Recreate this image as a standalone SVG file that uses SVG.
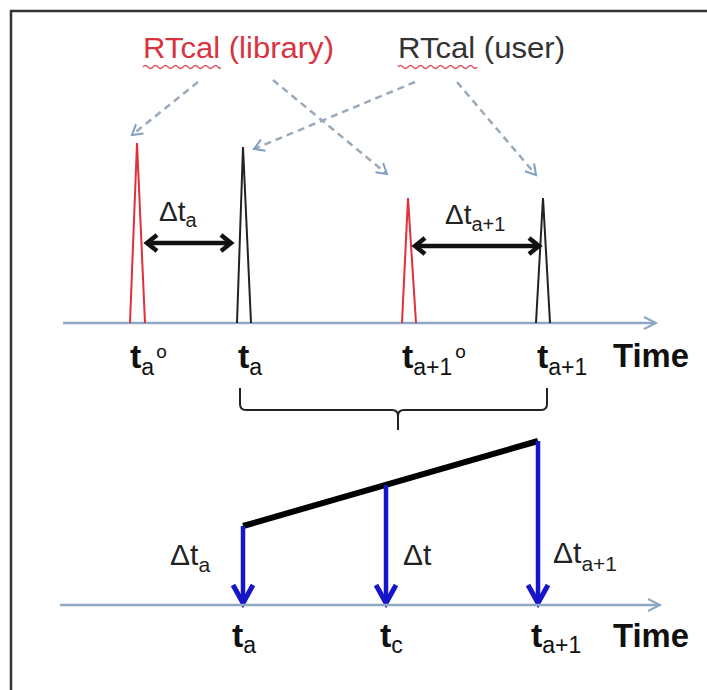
<svg xmlns="http://www.w3.org/2000/svg" width="707" height="690" viewBox="0 0 707 690">
<defs>
<style>
.lbl{font-family:"Liberation Sans",Arial,sans-serif}
.tb{font-family:"Liberation Sans",Arial,sans-serif;font-weight:bold;font-size:34px;fill:#111}
.sub{font-weight:normal;font-size:23px}
.sup{font-weight:normal;font-size:19px}
.dl{font-family:"Liberation Sans",Arial,sans-serif;font-size:28px;fill:#222}
.dl2{font-family:"Liberation Sans",Arial,sans-serif;font-size:30px;fill:#222}
.axis{stroke:#8ea7c2;stroke-width:2.5;fill:none}
.dash{stroke:#9aaabb;stroke-width:2.5;stroke-dasharray:7 5;fill:none}
.red{stroke:#e0303c;stroke-width:2;fill:none}
.blk{stroke:#222;stroke-width:2;fill:none}
.dbl{stroke:#111;stroke-width:4.5;fill:none}
.blue{stroke:#1616c8;stroke-width:4.5;fill:none}
.sq{stroke:#e05060;stroke-width:1.3;fill:none}
</style>
<marker id="axh" markerWidth="20" markerHeight="20" refX="14" refY="8" orient="auto" markerUnits="userSpaceOnUse">
<path d="M2,2 L14,8 L2,14" stroke="#8ea7c2" stroke-width="2" fill="none"/>
</marker>
<marker id="dh" markerWidth="20" markerHeight="20" refX="13" refY="8" orient="auto" markerUnits="userSpaceOnUse">
<path d="M3,2 L13,8 L3,14" stroke="#7f9fc6" stroke-width="2" fill="none"/>
</marker>
<marker id="bh" markerWidth="24" markerHeight="24" refX="16" refY="12" orient="auto-start-reverse" markerUnits="userSpaceOnUse">
<path d="M6,4 L16,12 L6,20" stroke="#111" stroke-width="4.5" fill="none" stroke-linejoin="miter"/>
</marker>
<marker id="blh" markerWidth="30" markerHeight="30" refX="22" refY="15" orient="auto" markerUnits="userSpaceOnUse">
<path d="M4,5 L22,15 L4,25" stroke="#1616c8" stroke-width="5" fill="none"/>
</marker>
</defs>
<rect width="707" height="690" fill="#fff"/>
<g id="frame">
<path d="M11,707 L11,11 L707,11" stroke="#333" stroke-width="2.5" fill="none"/>
</g>
<g id="rtcal-library">
<text class="lbl" x="143" y="58" font-size="29" fill="#d8343f" textLength="191" lengthAdjust="spacingAndGlyphs">RTcal (library)</text>
<path class="sq" d="M143,67 q2.5,-3 5,0 t5,0 t5,0 t5,0 t5,0 t5,0 t5,0 t5,0 t5,0 t5,0 t5,0 t5,0 t5,0 t5,0 t5,0 t2,0"/>
</g>
<g id="rtcal-user">
<text class="lbl" x="398" y="58" font-size="29" fill="#333" textLength="167" lengthAdjust="spacingAndGlyphs">RTcal (user)</text>
<path class="sq" d="M398,67 q2.5,-3 5,0 t5,0 t5,0 t5,0 t5,0 t5,0 t5,0 t5,0 t5,0 t5,0 t5,0 t5,0 t5,0 t5,0 t5,0 t4,0"/>
</g>
<g id="top-axis">
<path class="axis" d="M63,323 L656,323" marker-end="url(#axh)"/>
</g>
<g id="spikes">
<path class="red" d="M130,323 L137,143 L145,323"/>
<path class="blk" d="M237,323 L243,147 L251,323"/>
<path class="red" d="M402,323 L408,198 L416,323"/>
<path class="blk" d="M536,323 L543,198 L550,323"/>
</g>
<g id="connectors">
<path class="dash" d="M198,82 L132,135" marker-end="url(#dh)"/>
<path class="dash" d="M273,80 L387,174" marker-end="url(#dh)"/>
<path class="dash" d="M415,82 L254,149" marker-end="url(#dh)"/>
<path class="dash" d="M457,82 L536,175" marker-end="url(#dh)"/>
<path class="dbl" d="M147,243 L231,243" marker-start="url(#bh)" marker-end="url(#bh)"/>
<path class="dbl" d="M415,246 L539,246" marker-start="url(#bh)" marker-end="url(#bh)"/>
<path d="M240,388 L240,404 Q240,410 246,410 L392,410 Q398,410 398,416 L398,430 M398,416 Q398,410 404,410 L541,410 Q547,410 547,404 L547,388" stroke="#222" stroke-width="2" fill="none"/>
<path d="M243,526 L538,441" stroke="#000" stroke-width="6" fill="none"/>
<path class="blue" d="M243,526 L243,603" marker-end="url(#blh)"/>
<path class="blue" d="M386,485 L386,603" marker-end="url(#blh)"/>
<path class="blue" d="M538,441 L538,603" marker-end="url(#blh)"/>
</g>
<g id="top-labels">
<text class="dl" x="159" y="221">Δt<tspan font-size="20" dy="6">a</tspan></text>
<text class="dl" x="445" y="224">Δt<tspan font-size="20" dy="7">a+1</tspan></text>
<text class="tb" x="130" y="368">t<tspan class="sub" dy="7">a</tspan><tspan class="sup" dx="2" dy="-17">o</tspan></text>
<text class="tb" x="238" y="368">t<tspan class="sub" dy="7">a</tspan></text>
<text class="tb" x="402" y="368">t<tspan class="sub" dy="7">a+1</tspan><tspan class="sup" dx="3" dy="-17">o</tspan></text>
<text class="tb" x="537" y="368">t<tspan class="sub" dy="7">a+1</tspan></text>
<text class="tb" x="613" y="367" textLength="76" lengthAdjust="spacingAndGlyphs">Time</text>
</g>
<g id="bottom-axis">
<path class="axis" d="M60,605 L660,605" marker-end="url(#axh)"/>
</g>
<g id="bottom-labels">
<text class="dl2" x="170" y="565">Δt<tspan font-size="21" dy="7">a</tspan></text>
<text class="dl2" x="403" y="565">Δt</text>
<text class="dl2" x="553" y="563">Δt<tspan font-size="21" dy="8">a+1</tspan></text>
<text class="tb" x="232" y="647">t<tspan class="sub" dy="6">a</tspan></text>
<text class="tb" x="380" y="647">t<tspan class="sub" dy="6">c</tspan></text>
<text class="tb" x="531" y="647">t<tspan class="sub" dy="6">a+1</tspan></text>
<text class="tb" x="613" y="647" textLength="76" lengthAdjust="spacingAndGlyphs">Time</text>
</g>
</svg>
